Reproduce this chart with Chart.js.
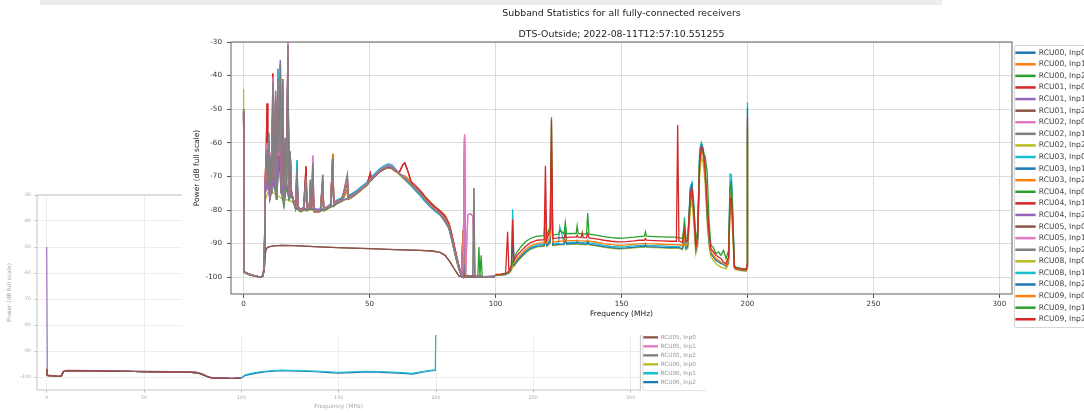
<!DOCTYPE html>
<html><head><meta charset="utf-8">
<script src="https://cdn.jsdelivr.net/npm/chart.js@4/dist/chart.umd.min.js"></script>
<style>
html,body{margin:0;padding:0;background:#fff;width:1084px;height:413px;overflow:hidden;position:relative;}
#strip{position:absolute;left:40px;top:0;width:902px;height:5px;background:#ededed;}
#bg{position:absolute;left:0;top:180px;filter:blur(0.4px);}
#main{position:absolute;left:182px;top:6px;background:#fff;filter:blur(0.4px);}
</style></head><body>
<div id="strip"></div>
<canvas id="bg" width="706" height="233"></canvas>
<canvas id="main" width="902" height="329"></canvas>
<script>
Chart.defaults.font.family = "'DejaVu Sans', 'Liberation Sans', sans-serif";
Chart.defaults.animation = false;

const TAB10 = ['#1f77b4','#ff7f0e','#2ca02c','#d62728','#9467bd','#8c564b','#e377c2','#7f7f7f','#bcbd22','#17becf'];
const xTickValues = [0, 50, 100, 150, 200, 250, 300];
const yTickValues = [-100, -90, -80, -70, -60, -50, -40, -30];

const mainLabels = ['RCU00, Inp0','RCU00, Inp1','RCU00, Inp2','RCU01, Inp0','RCU01, Inp1','RCU01, Inp2',
  'RCU02, Inp0','RCU02, Inp1','RCU02, Inp2','RCU03, Inp0','RCU03, Inp1','RCU03, Inp2',
  'RCU04, Inp0','RCU04, Inp1','RCU04, Inp2','RCU05, Inp0','RCU05, Inp1','RCU05, Inp2',
  'RCU08, Inp0','RCU08, Inp1','RCU08, Inp2','RCU09, Inp0','RCU09, Inp1','RCU09, Inp2'];

// ---------- low band (0-100 MHz), shared frequency grid ----------
const lbaFreq = [0, 0.2, 2, 4.5, 6.6, 7.6, 8.2, 8.6, 9.0, 9.3,
 9.6, 10.0, 10.4, 10.8, 11.2, 11.6, 12.0, 12.4, 12.7, 13.1,
 13.6, 14.0, 14.3, 14.6, 15.0, 15.6, 16.0, 16.5, 17.0, 17.6,
 18.0, 18.5, 19.0, 19.8, 20.6, 21.2, 21.6, 22.6, 23.8, 24.8,
 25.2, 26.1, 26.5, 26.9, 27.5, 27.9, 29.0, 30.5, 31.4, 31.8,
 33.0, 34.5, 35.4, 35.8, 37.0, 39.0, 41.2, 41.6, 43.0, 45.0,
 47.0, 49.0, 50.3, 50.8, 52.0, 54.0, 56.0, 57.5, 59.0, 60.5,
 62.0, 63.2, 64.0, 65.0, 66.5, 68.0, 70.0, 72.0, 74.0, 76.0,
 78.0, 80.0, 81.5, 82.5, 83.5, 84.5, 85.5, 86.5, 87.1, 87.7,
 88.1, 89.0, 90.0, 91.0, 91.4, 91.8, 92.6, 93.4, 94.3, 95.0,
 97.0, 99.8];

const lbaGray = [-50, -98.3, -99.0, -99.6, -100, -99.6, -96.5, -74, -66, -62,
 -73, -57, -77, -64, -75, -42, -71, -60, -44.5, -77,
 -41, -63, -50, -36.5, -75, -41, -79, -58.5, -73, -31,
 -77, -62.5, -75.5, -77.5, -79.5, -68, -79.5, -80.2, -79.8, -70,
 -80, -79.5, -71, -79.8, -66, -80.3, -80.5, -80.2, -69.5, -80,
 -79.6, -78.8, -64.5, -78.6, -77.8, -77.2, -69.5, -76.6, -76, -74.9,
 -73.6, -72.4, -71, -70.8, -69.9, -68.4, -67.4, -66.9, -67.2, -68.3,
 -69.4, -70.2, -70.6, -71.3, -72.5, -73.6, -75.2, -77, -78.7, -80.1,
 -81.2, -82.8, -85.2, -88, -91.5, -94.6, -97.6, -99.5, -100, -97,
 -100, -99.5, -99.7, -99.5, -73.5, -100, -99.6, -99.8, -99.7, -100,
 -100, -99.7];

const lbaPink = [-50.5, -98.4, -99.1, -99.6, -100, -99.6, -97, -72, -64, -60,
 -71, -58, -76, -63, -74, -40.5, -70, -62, -46, -76,
 -42, -64, -52, -37, -74, -43, -78, -59, -72, -30,
 -76, -63, -75, -77.2, -79.3, -69, -79.3, -80, -79.5, -71,
 -79.8, -79.3, -72, -79.6, -63.8, -80.1, -80.3, -80, -71, -79.8,
 -79.4, -78.6, -66, -78.4, -77.6, -77, -71, -76.4, -75.8, -74.7,
 -73.4, -72.2, -70.8, -70.6, -69.7, -68.2, -67.2, -66.7, -67, -68.1,
 -69.2, -70, -70.4, -71.1, -72.3, -73.4, -75, -76.8, -78.5, -79.9,
 -81, -82.6, -85, -87.8, -91.3, -94.4, -97.4, -99.4, -99.8, -57.5,
 -99, -81.5, -81, -82, -90, -99.5, -99.6, -99.8, -99.7, -100,
 -100, -99.7];

const lbaRed = [-51, -98.5, -99.2, -99.7, -100, -99.7, -97.5, -70, -62, -48.3,
 -70, -60, -75, -66, -73, -39.4, -69, -63, -47, -75,
 -45, -66, -55, -40, -73, -46, -77, -61, -70, -34,
 -75, -64, -74.5, -77, -79, -70, -79, -79.8, -79.4, -67,
 -79.6, -79.2, -73, -79.4, -70, -79.9, -80.1, -79.8, -72, -79.6,
 -79.2, -78.5, -69, -78.2, -77.4, -76.8, -72, -76.2, -75.6, -74.6,
 -73.4, -72.3, -69, -71, -70, -68.6, -67.6, -67.2, -67.6, -68.6,
 -68.5, -66.5, -66, -68, -71.6, -72.6, -74.2, -76, -77.8, -79.2,
 -80.4, -81.9, -84.2, -87, -90.5, -94, -97.2, -99.3, -99.8, -99,
 -100, -99.6, -99.7, -99.5, -99.6, -99.8, -99.6, -99.8, -99.7, -100,
 -100, -99.7];

const lbaCyan = [-50.8, -98.4, -99.1, -99.6, -100, -99.7, -97.2, -73, -65, -63,
 -72, -59, -76, -65, -74, -45, -70, -61, -48, -76,
 -38, -62, -51, -48, -74, -44, -78, -60, -72, -36,
 -76, -63, -74.8, -77, -79, -65.2, -79, -79.8, -79.3, -72,
 -79.5, -79, -73, -79.3, -71, -79.8, -80, -79.7, -72, -79.5,
 -79.1, -78.3, -70, -78, -77.1, -76.4, -72, -75.8, -75.2, -74.2,
 -72.9, -71.8, -70.5, -70.2, -69.3, -67.8, -66.8, -66.3, -66.7, -68,
 -69.3, -70.3, -70.8, -71.6, -72.8, -74, -75.6, -77.4, -79, -80.4,
 -81.5, -83.1, -85.5, -88.4, -91.8, -94.9, -97.8, -99.6, -100, -99,
 -99.8, -99.5, -99.7, -99.5, -99.6, -99.8, -99.6, -99.8, -99.7, -100,
 -100, -99.8];

const lbaWarm = [-51, -98.5, -99.2, -99.7, -100, -99.7, -97.4, -76, -67, -64,
 -74, -60, -77, -67, -75, -47, -71, -63, -50, -77,
 -46, -65, -54, -42, -75, -47, -78.5, -62, -73, -40,
 -76.5, -65, -75.5, -77.6, -79.6, -72, -79.8, -80.5, -80, -74,
 -80.2, -79.8, -75, -80, -73, -80.5, -80.7, -80.4, -75, -80.2,
 -79.8, -79, -63.3, -78.8, -78, -77.4, -74, -76.8, -76.2, -75.1,
 -73.8, -72.6, -71.3, -71, -70, -68.6, -67.8, -67.4, -67.6, -68.3,
 -69.2, -69.8, -70, -70.6, -71.8, -72.8, -74.3, -76, -77.6, -79,
 -80.2, -81.7, -84, -86.8, -90.2, -93.6, -96.8, -99, -86, -99.6,
 -99.8, -99.6, -99.7, -99.5, -99.6, -99.8, -99.6, -99.6, -99.7, -100,
 -100, -99.7];

const purpleFreq = [0, 0.2, 2, 4.5, 6.6, 7.6, 8.2, 8.6, 9.6, 10.4,
 11.2, 12.0, 13.1, 14.3, 14.6, 14.9, 16.0, 17.0, 18.0, 19.0,
 20.6, 22.6, 26.1, 30.5, 35.0, 39.0, 43.0, 47.0, 50.8, 54.0,
 57.5, 60.5, 63.2, 66.5, 70.0, 74.0, 78.0, 81.5, 83.5, 85.5,
 87.1, 87.7, 88.1, 95.0, 99.8];
const purpleVals = [-50.5, -98.4, -99.1, -99.6, -100, -99.7, -97.3, -75, -71, -77,
 -74, -70, -77, -62, -35.4, -70, -78, -72, -76, -75,
 -79.3, -80, -79.4, -80, -78.8, -77.2, -76, -73.6, -70.8, -68.4,
 -67, -68.2, -70.2, -72.6, -75.2, -78.7, -81.2, -85.2, -91.5, -97.6,
 -99.8, -58.5, -99.8, -99.8, -99.7];

const greenFreq = [0, 0.2, 2, 4.5, 6.6, 7.6, 8.2, 8.6, 9.6, 10.8,
 12.0, 13.1, 14.0, 15.0, 16.0, 17.0, 18.0, 19.0, 20.6, 22.6,
 26.1, 30.5, 35.0, 39.0, 43.0, 47.0, 50.8, 54.0, 57.5, 60.5,
 63.2, 66.5, 70.0, 74.0, 78.0, 81.5, 83.5, 85.5, 87.1, 93.0,
 93.4, 93.8, 94.3, 94.7, 99.8];
const greenVals = [-51, -98.5, -99.2, -99.7, -100, -99.7, -97.5, -74, -72, -68,
 -73, -76, -65, -75, -79, -73, -77, -75.5, -79.5, -80.3,
 -79.7, -80.3, -79, -77.2, -76, -73.6, -70.9, -68.5, -67, -68.3,
 -70, -72.2, -74.8, -78.5, -81, -85, -91.2, -97.5, -99.8, -99.8,
 -91, -99.7, -93.5, -99.8, -99.8];

const oliveFreq = [0, 0.2, 2, 4.5, 6.6, 7.6, 8.2, 8.6, 10, 12,
 14, 16, 18, 19.8, 22.6, 26, 30.5, 35, 39, 43,
 47, 50.8, 54, 57.5, 60.5, 63.2, 66.5, 70, 74, 78,
 81.5, 83.5, 85.5, 87.1, 88.1, 95, 99.8];
const oliveVals = [-44, -98.6, -99.2, -99.7, -100, -99.7, -97.6, -77, -74, -75,
 -76, -77, -77, -78, -80.3, -79.8, -80.3, -79, -77.4, -76.2,
 -73.8, -71, -68.6, -67.2, -68.6, -70.5, -72.8, -75.4, -78.9, -81.5,
 -85.5, -91.8, -97.7, -99.8, -100, -99.8, -99.8];

const deadFreq = [0, 0.2, 2, 4.5, 6.6, 7.6, 8.2, 8.6, 9.0, 10,
 12, 15, 20, 30, 40, 50, 60, 70, 75, 78,
 80, 82, 84, 85.5, 87, 95, 99.8];
const deadVals = [-50, -98.4, -99.1, -99.6, -100, -99.6, -98, -93, -91.4, -91,
 -90.7, -90.5, -90.6, -91, -91.3, -91.5, -91.8, -92, -92.2, -92.6,
 -93.5, -95.5, -98, -99.6, -100, -100, -99.8];

// ---------- high band (100-200 MHz), shared frequency grid ----------
const hbaFreq = [100.0, 102.0, 104.0, 104.8, 105.3, 106.3, 106.8, 107.3, 108.5, 110.0,
 112.0, 114.0, 116.5, 119.3, 119.8, 120.3, 121.7, 122.2, 122.7, 124.0,
 125.0, 125.5, 127.2, 127.7, 128.2, 130.0, 132.0, 132.4, 132.8, 134.0,
 134.4, 134.8, 136.1, 136.6, 137.1, 140.0, 143.0, 146.0, 149.0, 152.0,
 155.0, 157.0, 159.1, 159.5, 159.9, 163.0, 166.0, 169.0, 171.8, 172.3,
 172.8, 174.2, 175.0, 175.6, 176.3, 177.3, 178.0, 178.7, 179.5, 180.2,
 181.0, 181.7, 182.4, 183.2, 184.0, 184.8, 185.5, 186.5, 187.5, 188.5,
 189.5, 190.5, 191.5, 192.5, 193.1, 193.6, 194.2, 194.8, 195.5, 197.0,
 198.5, 199.5, 199.9, 200.0];

const hbaRed = [-99.2, -99.1, -98.8, -86.5, -98.2, -96.5, -82.8, -95, -93.6, -92.3,
 -90.8, -89.7, -89, -88.8, -66.8, -88.8, -86, -53.4, -88.5, -88.4,
 -88.3, -88.3, -88.2, -87.2, -88.2, -88.1, -88.1, -87.5, -88.1, -88.2,
 -86.7, -88.2, -88.3, -87, -88.3, -88.6, -89, -89.3, -89.5, -89.4,
 -89.2, -89, -89, -88.5, -89, -89.1, -89.2, -89.3, -89.3, -54.7,
 -89.3, -89.6, -86, -89.5, -89, -75, -73.8, -80, -90.8, -88,
 -66, -61, -62, -68, -78.8, -87, -91.5, -92.5, -93.5, -94,
 -94.5, -95.5, -96, -94, -77, -76.6, -85, -96.8, -97.3, -97.5,
 -97.7, -97.7, -96, -52.4];

const hbaGreen = [-99.3, -99.2, -99, -98.5, -98.3, -97, -95.2, -94.2, -92.6, -91,
 -89.4, -88.4, -87.8, -87.6, -80, -87.6, -85, -52.4, -87.4, -87.3,
 -87.2, -86, -87.1, -83.7, -87.1, -87, -87, -84.7, -87, -87.1,
 -87.1, -87.1, -87.2, -81, -87.2, -87.5, -87.9, -88.2, -88.4, -88.3,
 -88.1, -87.9, -87.8, -86.5, -87.8, -87.9, -88, -88.1, -88.1, -88.2,
 -88.2, -88.5, -84, -88.5, -88.4, -78, -75, -79, -89, -86,
 -65, -62, -63, -64, -68.8, -84, -90.5, -91.2, -93, -92.5,
 -93.5, -92, -94.5, -92, -73, -72, -83, -96.5, -97, -97.3,
 -97.5, -97.5, -96.2, -55];

const hbaOrange = [-99.4, -99.3, -99.1, -98.7, -98.5, -97.4, -96, -95.8, -94.5, -93.2,
 -91.7, -90.6, -89.9, -89.7, -85, -89.7, -88, -62, -89.5, -89.4,
 -89.3, -89.3, -89.2, -88.5, -89.2, -89.1, -89.1, -89, -89.1, -89.2,
 -89.2, -89.2, -89.3, -89, -89.3, -89.6, -90, -90.3, -90.5, -90.4,
 -90.2, -90, -90, -89.8, -90, -90.1, -90.2, -90.3, -90.3, -90.3,
 -90.3, -90.6, -88, -90.6, -90, -77, -74.5, -82, -91.5, -89,
 -67, -62, -63.5, -70, -80, -88.5, -92.5, -93.5, -94.5, -95,
 -95.5, -96, -96.5, -95, -78, -74, -86, -97, -97.5, -97.7,
 -97.9, -97.9, -97, -56];

const hbaBlue = [-99.5, -99.4, -99.2, -98.9, -98.7, -97.8, -88, -96.5, -95.3, -94,
 -92.5, -91.4, -90.8, -90.6, -88, -90.6, -89.5, -70, -90.4, -90.3,
 -90.2, -90.2, -90.1, -88, -90.1, -90, -90, -89.5, -90, -90.1,
 -90.1, -90.1, -90.2, -89.5, -90.2, -90.5, -90.9, -91.2, -91.4, -91.3,
 -91.1, -90.9, -90.9, -90.5, -90.9, -91, -91.1, -91.2, -91.2, -91.2,
 -91.2, -91.5, -88, -91.5, -90.8, -74, -72.5, -81, -92, -90,
 -64, -61, -63, -69, -82, -90, -93, -94, -95, -95.5,
 -96, -96.2, -96.8, -95.5, -74, -71, -84, -97.2, -97.6, -97.8,
 -98, -98, -97.2, -49.5];

const hbaCyan = [-99.4, -99.3, -99.1, -98.8, -98.6, -97.6, -79.8, -96.2, -95, -93.7,
 -92.2, -91.1, -90.4, -90.2, -87, -90.2, -89, -65, -90, -89.9,
 -89.8, -85, -89.7, -86, -89.7, -89.6, -89.6, -89.4, -89.6, -89.7,
 -89.7, -89.7, -89.8, -89, -89.8, -90.1, -90.5, -90.8, -91, -90.9,
 -90.7, -90.5, -90.5, -90, -90.5, -90.6, -90.7, -90.8, -90.8, -90.8,
 -90.8, -90.5, -82.2, -90, -89.5, -73, -71.8, -78, -91.5, -88.5,
 -62, -59.9, -61.5, -66, -79, -89, -92.8, -93.8, -94.8, -95.2,
 -95.8, -96, -96.5, -94, -69.3, -69.5, -80, -97, -97.5, -97.7,
 -97.9, -97.9, -97, -47.9];

const hbaOlive = [-99.5, -99.4, -99.2, -99, -98.8, -98, -97, -96.8, -95.6, -94.3,
 -92.8, -91.7, -91, -90.8, -89, -90.8, -90, -75, -90.6, -90.5,
 -90.4, -90.4, -90.3, -89.5, -90.3, -90.2, -90.2, -90, -90.2, -90.3,
 -90.3, -90.3, -90.4, -90, -90.4, -90.7, -91.1, -91.4, -91.6, -91.5,
 -91.3, -91.1, -91.1, -90.8, -91.1, -91.2, -91.3, -91.4, -91.4, -91.4,
 -91.4, -91.8, -90, -91.8, -91.5, -80, -77, -84, -93, -91,
 -70, -64, -66, -72, -84, -91, -94, -95, -96, -96.5,
 -97, -97.2, -97.5, -96, -80, -78, -88, -97.5, -97.8, -98,
 -98.2, -98.2, -97.5, -60];

// which profile each receiver input shows
const mainFreqOf = [lbaFreq, lbaFreq, lbaFreq, lbaFreq, purpleFreq, deadFreq, lbaFreq, lbaFreq, oliveFreq,
  lbaFreq, lbaFreq, lbaFreq, greenFreq, lbaFreq, purpleFreq, deadFreq, lbaFreq, lbaFreq,
  hbaFreq, hbaFreq, hbaFreq, hbaFreq, hbaFreq, hbaFreq];
const mainValsOf = [lbaCyan, lbaWarm, lbaWarm, lbaRed, purpleVals, deadVals, lbaPink, lbaGray, oliveVals,
  lbaCyan, lbaWarm, lbaWarm, greenVals, lbaRed, purpleVals, deadVals, lbaPink, lbaGray,
  hbaOlive, hbaCyan, hbaBlue, hbaOrange, hbaGreen, hbaRed];

// ---------- background (second, partially hidden) window ----------
const bgLabels = ['RCU00, Inp0','RCU00, Inp1','RCU00, Inp2','RCU01, Inp0','RCU01, Inp1','RCU01, Inp2',
  'RCU02, Inp0','RCU02, Inp1','RCU02, Inp2','RCU03, Inp0','RCU03, Inp1','RCU03, Inp2',
  'RCU04, Inp0','RCU04, Inp1','RCU04, Inp2','RCU05, Inp0','RCU05, Inp1','RCU05, Inp2',
  'RCU06, Inp0','RCU06, Inp1','RCU06, Inp2'];
const bgLbaFreq = [0, 0.3, 3, 6, 7.5, 8.5, 10, 15, 25, 35, 45, 55, 65, 72, 77, 80, 83, 85, 90, 95, 99.8];
const bgLba = [-97, -99.4, -99.5, -99.8, -99.6, -98, -97.6, -97.6, -97.7, -97.8, -97.9, -98, -98.1, -98.2, -98.3, -99, -100, -100.4, -100.5, -100.6, -100.5];
const bgLbaPurple = [-50, -99.2, -99.4, -99.7, -99.5, -97.8, -97.4, -97.4, -97.5, -97.6, -97.7, -97.8, -97.9, -98, -98.1, -98.8, -99.8, -100.2, -100.3, -100.4, -100.3];
const bgHbaFreq = [100, 101.7, 104, 108.6, 113, 120.6, 130, 137.8, 145, 149.9, 157, 163.7, 170, 177.5, 183, 187.8, 190, 192.8, 195.5, 197.9, 199.7, 200];
const bgHbaCyan = [-100.3, -99.2, -98.8, -98.1, -97.7, -97.3, -97.5, -97.7, -98, -98.2, -98, -97.8, -97.9, -98.1, -98.3, -98.6, -98.3, -97.9, -97.6, -97.3, -97.2, -48];
const bgHbaBlue = [-100.5, -99.5, -99.1, -98.4, -98, -97.6, -97.8, -98, -98.3, -98.5, -98.3, -98.1, -98.2, -98.4, -98.6, -98.9, -98.6, -98.2, -97.9, -97.6, -97.5, -50];
const bgFreqOf = [bgLbaFreq, bgLbaFreq, bgLbaFreq, bgLbaFreq, bgLbaFreq, bgLbaFreq, bgLbaFreq, bgLbaFreq, bgLbaFreq, bgLbaFreq,
  bgLbaFreq, bgLbaFreq, bgLbaFreq, bgLbaFreq, bgLbaFreq, bgLbaFreq, bgLbaFreq, bgLbaFreq, bgLbaFreq, bgHbaFreq, bgHbaFreq];
const bgValsOf = [bgLba, bgLba, bgLba, bgLba, bgLbaPurple, bgLba, bgLba, bgLba, bgLba, bgLba,
  bgLba, bgLba, bgLba, bgLba, bgLba, bgLba, bgLba, bgLba, bgLba, bgHbaCyan, bgHbaBlue];
// drawing order of the visible traces (last one on top)
const bgOnTop = [4, 3, 5, 20, 19];

function pts(freq, vals) { return freq.map((f, i) => ({x: f, y: vals[i]})); }

const framePlugin = {
  id: 'frame',
  afterDatasetsDraw(chart, args, opts) {
    const {ctx, chartArea: a} = chart;
    ctx.save();
    ctx.strokeStyle = opts.color; ctx.lineWidth = opts.width;
    ctx.strokeRect(a.left, a.top, a.right - a.left, a.bottom - a.top);
    ctx.restore();
  }
};
const legendFramePlugin = {
  id: 'legendFrame',
  afterDraw(chart, args, opts) {
    const lg = chart.legend; const hb = lg && lg.legendHitBoxes;
    if (!hb || !hb.length) return;
    const ctx = chart.ctx;
    const top = hb[0].top - opts.pad;
    const last = hb[hb.length - 1];
    const bottom = last.top + last.height + opts.pad;
    const left = lg.left + opts.inset;
    ctx.save();
    ctx.strokeStyle = opts.color; ctx.lineWidth = 1;
    ctx.beginPath();
    if (ctx.roundRect) ctx.roundRect(left + 0.5, top + 0.5, opts.width, bottom - top, 2);
    else ctx.rect(left + 0.5, top + 0.5, opts.width, bottom - top);
    ctx.stroke();
    ctx.restore();
  }
};

function axisOpts(cfg) {
  return {
    grid: {color: cfg.grid, lineWidth: 1, tickLength: cfg.tickLen, tickColor: cfg.tickColor, tickWidth: 1},
    border: {display: false}
  };
}

// ---------- main chart ----------
new Chart(document.getElementById('main'), {
  type: 'line',
  data: {
    datasets: mainLabels.map((label, i) => ({
      label,
      data: pts(mainFreqOf[i], mainValsOf[i]),
      borderColor: TAB10[i % 10],
      backgroundColor: TAB10[i % 10],
      borderWidth: 1.3,
      pointRadius: 0,
      fill: false,
      tension: 0,
      order: mainLabels.length - i
    }))
  },
  options: {
    responsive: false,
    devicePixelRatio: 1,
    animation: false,
    layout: {padding: 0},
    scales: {
      x: Object.assign(axisOpts({grid: '#dcdcdc', tickLen: 4, tickColor: '#555'}), {
        type: 'linear', min: -5, max: 305,
        afterBuildTicks: s => { s.ticks = xTickValues.map(v => ({value: v})); },
        afterFit: s => { s.height = 41; },
        ticks: {color: '#333', font: {size: 7.2}, padding: 1.7, maxRotation: 0, autoSkip: false},
        title: {display: true, text: 'Frequency (MHz)', color: '#222', font: {size: 7.5}, padding: {top: 0, bottom: 16}}
      }),
      y: Object.assign(axisOpts({grid: '#dcdcdc', tickLen: 4, tickColor: '#555'}), {
        type: 'linear', min: -105, max: -30,
        afterBuildTicks: s => { s.ticks = yTickValues.map(v => ({value: v})); },
        afterFit: s => { s.width = 49; },
        ticks: {color: '#333', font: {size: 7.2}, padding: 5, autoSkip: false},
        title: {display: true, text: 'Power (dB full scale)', color: '#222', font: {size: 7.5}, padding: {top: 10.5, bottom: 0}}
      })
    },
    plugins: {
      title: {display: true, text: 'Subband Statistics for all fully-connected receivers', fullSize: false,
        color: '#222', font: {size: 9.4, weight: 'normal'}, padding: {top: 2.36, bottom: 4.5}},
      subtitle: {display: true, text: 'DTS-Outside; 2022-08-11T12:57:10.551255', fullSize: false,
        color: '#222', font: {size: 9.4, weight: 'normal'}, padding: {top: 4.52, bottom: 2.06}},
      legend: {
        position: 'right', align: 'start', fullSize: true, maxWidth: 72,
        title: {display: true, text: '', font: {size: 10}, padding: 13.455},
        labels: {boxWidth: 19, boxHeight: 1.2, padding: 3.99, color: '#444', font: {size: 7.6},
          sort: (a, b) => a.datasetIndex - b.datasetIndex}
      },
      tooltip: {enabled: false},
      frame: {color: '#7a7a7a', width: 1.2},
      legendFrame: {color: '#d4d4d4', pad: 4, inset: 2, width: 300}
    }
  },
  plugins: [framePlugin, legendFramePlugin]
});

// ---------- background chart ----------
new Chart(document.getElementById('bg'), {
  type: 'line',
  data: {
    datasets: bgLabels.map((label, i) => ({
      label,
      data: pts(bgFreqOf[i], bgValsOf[i]),
      borderColor: TAB10[i % 10],
      backgroundColor: TAB10[i % 10],
      borderWidth: 1.1,
      pointRadius: 0,
      fill: false,
      tension: 0,
      order: bgOnTop.includes(i) ? bgOnTop.length - bgOnTop.indexOf(i) : 100
    }))
  },
  options: {
    responsive: false,
    devicePixelRatio: 1,
    animation: false,
    layout: {padding: {top: 15, left: 0, right: 0, bottom: 0}},
    scales: {
      x: Object.assign(axisOpts({grid: '#ededed', tickLen: 2.5, tickColor: '#bbb'}), {
        type: 'linear', min: -5, max: 305,
        afterBuildTicks: s => { s.ticks = xTickValues.map(v => ({value: v})); },
        afterFit: s => { s.height = 23; },
        ticks: {color: '#aaa', font: {size: 4.8}, padding: 2.1, maxRotation: 0, autoSkip: false},
        title: {display: true, text: 'Frequency (MHz)', color: '#aaa', font: {size: 5.8}, padding: {top: 0, bottom: 3.5}}
      }),
      y: Object.assign(axisOpts({grid: '#ededed', tickLen: 2.5, tickColor: '#bbb'}), {
        type: 'linear', min: -105, max: -30,
        afterBuildTicks: s => { s.ticks = yTickValues.map(v => ({value: v})); },
        afterFit: s => { s.width = 37; },
        ticks: {color: '#aaa', font: {size: 4.8}, padding: 3.5, autoSkip: false},
        title: {display: true, text: 'Power (dB full scale)', color: '#aaa', font: {size: 5.8}, padding: {top: 6.5, bottom: 0}}
      })
    },
    plugins: {
      legend: {
        position: 'right', align: 'start', fullSize: true, maxWidth: 70,
        title: {display: true, text: '', font: {size: 1}, padding: 0.45},
        labels: {boxWidth: 14, boxHeight: 1.2, padding: 3.2, color: '#9a9a9a', font: {size: 5.75},
          sort: (a, b) => a.datasetIndex - b.datasetIndex}
      },
      tooltip: {enabled: false},
      frame: {color: '#c4c4c4', width: 1},
      legendFrame: {color: '#e2e2e2', pad: 5, inset: 2, width: 64}
    }
  },
  plugins: [framePlugin, legendFramePlugin]
});
</script></body></html>
